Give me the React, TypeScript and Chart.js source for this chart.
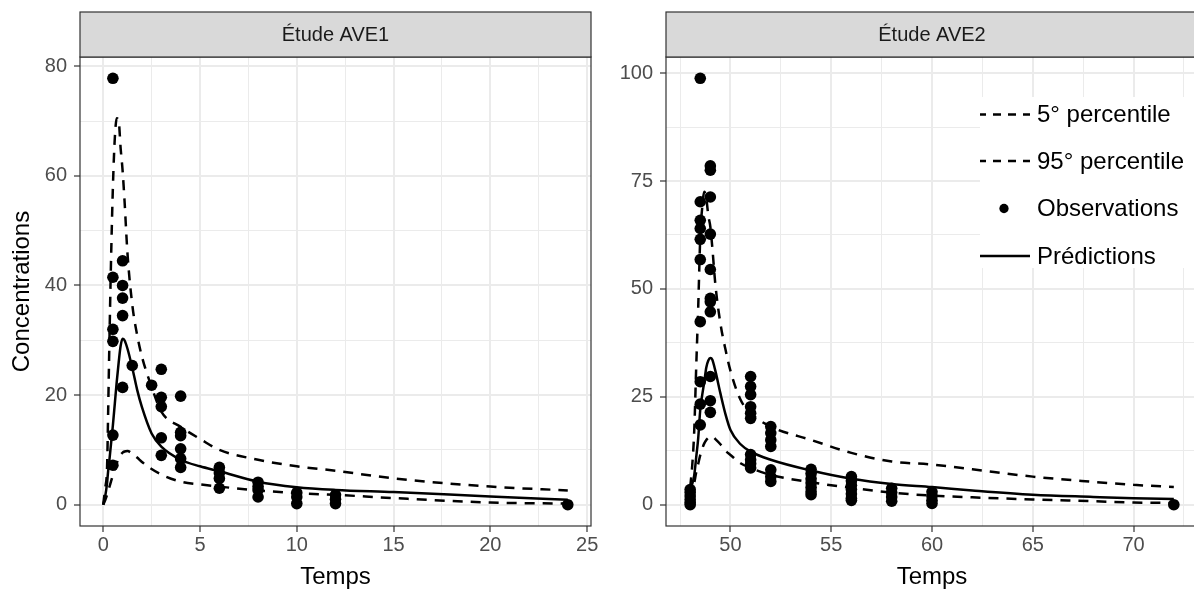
import React, { useEffect, useRef } from "react";
import { Chart, registerables } from "chart.js";

Chart.register(...registerables);

const FONT = "'Liberation Sans', Arial, Helvetica, sans-serif";

// ---------- Étude AVE1 ----------
const AVE1_TITLE = "Étude AVE1";
const AVE1_OBS_TIME = [
  0.5, 0.5, 0.5, 0.5, 0.5, 0.5,
  1, 1, 1, 1, 1,
  1.5, 2.5,
  3, 3, 3, 3, 3,
  4, 4, 4, 4, 4, 4,
  6, 6, 6, 6,
  8, 8, 8, 8,
  10, 10, 10,
  12, 12, 12,
  24,
];
const AVE1_OBS_CONC = [
  77.8, 41.5, 32.0, 29.8, 12.7, 7.2,
  44.5, 40.0, 37.7, 34.5, 21.4,
  25.4, 21.8,
  24.7, 19.6, 17.9, 12.2, 9.0,
  19.8, 13.2, 12.6, 10.2, 8.4, 6.8,
  6.8, 5.8, 4.8, 3.0,
  4.1, 3.3, 2.7, 1.4,
  2.2, 1.4, 0.2,
  1.8, 1.0, 0.2,
  0,
];
const AVE1_CURVE_TIME = [0, 0.1, 0.2, 0.25, 0.3, 0.4, 0.5, 0.6, 0.7, 0.8, 0.9, 1, 1.1, 1.25, 1.5, 1.75, 2, 2.5, 3, 4, 5, 6, 8, 10, 12, 15, 20, 24];
const AVE1_PRED = [0, 1.5, 4, 6, 7.5, 11, 14.5, 18.5, 22.5, 26, 29, 30.3, 30, 28.5, 25, 21, 17.8, 13, 10.6, 8.2, 7, 6.1, 4.2, 3.2, 2.7, 2.3, 1.5, 0.9];
const AVE1_P05 = [0, 0.8, 1.8, 2.4, 3, 4.2, 5.4, 6.5, 7.6, 8.5, 9.1, 9.5, 9.7, 9.8, 9.3, 8.6, 7.8, 6.5, 5.5, 4.2, 3.7, 3.3, 2.6, 2.1, 1.8, 1.2, 0.4, 0.2];
const AVE1_P95 = [0, 3, 7, 16, 26, 44, 58, 67, 70.5, 70, 65, 61, 55.5, 46, 36.5, 31, 27, 21.5, 17, 14.2, 12, 10, 8.2, 7, 6.2, 4.8, 3.3, 2.6];
const AVE1_X_MAJOR = [0, 5, 10, 15, 20, 25];
const AVE1_X_MINOR = [2.5, 7.5, 12.5, 17.5, 22.5];
const AVE1_Y_MAJOR = [0, 20, 40, 60, 80];
const AVE1_Y_MINOR = [10, 30, 50, 70];

// ---------- Étude AVE2 ----------
const AVE2_TITLE = "Étude AVE2";
const AVE2_OBS_TIME = [
  48, 48, 48, 48, 48, 48,
  48.5, 48.5, 48.5, 48.5, 48.5, 48.5, 48.5, 48.5, 48.5, 48.5,
  49, 49, 49, 49, 49, 49, 49, 49, 49, 49, 49,
  51, 51, 51, 51, 51, 51, 51, 51, 51, 51,
  52, 52, 52, 52, 52, 52, 52,
  54, 54, 54, 54, 54, 54, 54,
  56, 56, 56, 56, 56, 56, 56,
  58, 58, 58, 58,
  60, 60, 60, 60,
  72,
];
const AVE2_OBS_CONC = [
  3.5, 2.8, 2.0, 1.2, 0.5, 0,
  98.8, 70.2, 65.9, 64.0, 61.5, 56.8, 42.4, 28.5, 23.3, 18.5,
  78.5, 77.5, 71.3, 62.7, 54.5, 47.8, 47.0, 44.7, 29.7, 24.1, 21.4,
  29.7, 27.4, 25.5, 22.7, 21.2, 20.0, 11.6, 10.4, 9.5, 8.5,
  18.1, 16.6, 15.0, 13.5, 8.1, 6.5, 5.4,
  8.2, 7.2, 6.0, 5.0, 4.0, 3.0, 2.3,
  6.5, 5.5, 4.5, 3.5, 2.5, 1.5, 1.0,
  3.8, 2.8, 1.8, 0.8,
  3.0, 2.0, 1.0, 0.3,
  0,
];
const AVE2_CURVE_TIME = [48, 48.1, 48.2, 48.3, 48.4, 48.5, 48.6, 48.7, 48.8, 48.9, 49, 49.1, 49.25, 49.5, 49.75, 50, 50.5, 51, 52, 54, 56, 58, 60, 62, 65, 68, 70, 72];
const AVE2_PRED = [3.5, 4.8, 6.8, 11, 15.5, 22, 25.5, 28.5, 31.8, 33.4, 34, 33.6, 31, 25.8, 21, 17.3, 14, 12.3, 10.4, 7.9, 6.0, 4.8, 4.1, 3.3, 2.3, 1.8, 1.5, 1.3];
const AVE2_P05 = [1.2, 3, 5, 7.5, 9.5, 11.5, 13, 14.2, 15, 15.5, 15.8, 15.8, 15.2, 14, 12.5, 11.5, 9.6, 8.5, 6.9, 5.2, 3.9, 2.8, 2.1, 1.7, 1.2, 0.8, 0.5, 0.4];
const AVE2_P95 = [4, 9, 17, 32, 46, 62, 69, 72.5, 71, 67, 64.4, 59.5, 51, 42, 36, 31, 24.3, 21.2, 18.1, 15, 12, 10, 9.3, 8.2, 6.5, 5.3, 4.6, 4.1];
const AVE2_X_MAJOR = [50, 55, 60, 65, 70];
const AVE2_X_MINOR = [47.5, 52.5, 57.5, 62.5, 67.5, 72.5];
const AVE2_Y_MAJOR = [0, 25, 50, 75, 100];
const AVE2_Y_MINOR = [12.5, 37.5, 62.5, 87.5];

// ---------- Labels ----------
const X_TITLE = "Temps";
const Y_TITLE = "Concentrations";
const LEGEND_LABELS = ["5° percentile", "95° percentile", "Observations", "Prédictions"];
const LEGEND_KINDS = ["dash", "dash", "dot", "solid"];

const DASH = [10, 8];
const LINE_W = 2.5;
const POINT_R = 5.8;

const zip = (xs: number[], ys: number[]) => xs.map((x, i) => ({ x, y: ys[i] }));

const stripPlugin = {
  id: "strip",
  afterDraw(chart: any, _args: any, opts: any) {
    const { ctx, chartArea: a } = chart;
    ctx.save();
    ctx.strokeStyle = "#333333";
    ctx.lineWidth = 1.2;
    ctx.strokeRect(a.left, a.top, a.right - a.left, a.bottom - a.top);
    const top = 12;
    ctx.fillStyle = "#D9D9D9";
    ctx.fillRect(a.left, top, a.right - a.left, a.top - top);
    ctx.strokeRect(a.left, top, a.right - a.left, a.top - top);
    ctx.fillStyle = "#1A1A1A";
    ctx.font = `20px ${FONT}`;
    ctx.textAlign = "center";
    ctx.textBaseline = "middle";
    ctx.fillText(opts.text, (a.left + a.right) / 2, (top + a.top) / 2 + 1);
    ctx.restore();
  },
};

const keyLegendPlugin = {
  id: "keyLegend",
  afterDatasetsDraw(chart: any) {
    const { ctx, chartArea: a } = chart;
    const left = a.right - 218;
    const top = a.top + 40;
    const bottom = a.top + 211;
    const rows = [57.5, 104, 151.5, 199];
    ctx.save();
    ctx.fillStyle = "#FFFFFF";
    ctx.fillRect(left, top, a.right - left + 5, bottom - top);
    LEGEND_LABELS.forEach((label, i) => {
      const y = a.top + rows[i];
      const kind = LEGEND_KINDS[i];
      ctx.strokeStyle = "#000";
      ctx.fillStyle = "#000";
      ctx.lineWidth = LINE_W;
      if (kind === "dot") {
        ctx.beginPath();
        ctx.arc(left + 24, y, POINT_R * 0.8, 0, Math.PI * 2);
        ctx.fill();
      } else {
        ctx.setLineDash(kind === "dash" ? [8, 7] : []);
        ctx.lineDashOffset = kind === "dash" ? 2 : 0;
        ctx.beginPath();
        ctx.moveTo(left, y);
        ctx.lineTo(left + 50, y);
        ctx.stroke();
        ctx.setLineDash([]);
      }
      ctx.font = `24px ${FONT}`;
      ctx.textAlign = "left";
      ctx.textBaseline = "middle";
      ctx.fillText(label, left + 57, y + 1);
    });
    ctx.restore();
  },
};

interface PanelCfg {
  title: string;
  obsT: number[];
  obsC: number[];
  curveT: number[];
  pred: number[];
  p05: number[];
  p95: number[];
  xMajor: number[];
  xMinor: number[];
  yMajor: number[];
  yMinor: number[];
  xMin: number;
  xMax: number;
  yMin: number;
  yMax: number;
  yAxisWidth: number;
  padRight: number;
  yTitle: boolean;
  legend: boolean;
}

function axisOpts(major: number[], minor: number[], min: number, max: number) {
  const all = [...major, ...minor].sort((p, q) => p - q);
  return {
    type: "linear" as const,
    min,
    max,
    bounds: "data" as const,
    afterBuildTicks: (axis: any) => {
      axis.ticks = all.map((v) => ({ value: v }));
    },
    border: { display: false },
    grid: {
      color: "#EBEBEB",
      lineWidth: (c: any) => (c.tick && major.includes(c.tick.value) ? 2 : 1),
      drawTicks: true,
      tickLength: 6,
      tickWidth: 1.2,
      tickColor: (c: any) => (c.tick && major.includes(c.tick.value) ? "#333333" : "rgba(0,0,0,0)"),
    },
    ticks: {
      autoSkip: false,
      maxRotation: 0,
      minRotation: 0,
      color: "#4D4D4D",
      font: { family: FONT, size: 20 },
      callback: (v: any) => (major.includes(Number(v)) ? String(v) : ""),
    },
  };
}

function buildConfig(cfg: PanelCfg): any {
  const lineBase = {
    showLine: true,
    pointRadius: 0,
    borderColor: "#000000",
    borderWidth: LINE_W,
    fill: false,
    cubicInterpolationMode: "monotone",
  };
  const xAxis: any = axisOpts(cfg.xMajor, cfg.xMinor, cfg.xMin, cfg.xMax);
  xAxis.ticks.padding = 1;
  xAxis.title = {
    display: true,
    text: X_TITLE,
    color: "#000000",
    font: { family: FONT, size: 24 },
    padding: { top: 0, bottom: -2 },
  };
  xAxis.afterFit = (s: any) => {
    s.height = 64;
  };
  const yAxis: any = axisOpts(cfg.yMajor, cfg.yMinor, cfg.yMin, cfg.yMax);
  yAxis.ticks.padding = 7;
  yAxis.title = {
    display: cfg.yTitle,
    text: Y_TITLE,
    color: "#000000",
    font: { family: FONT, size: 24 },
    padding: { top: 8, bottom: 0 },
  };
  yAxis.afterFit = (s: any) => {
    s.width = cfg.yAxisWidth;
  };

  return {
    type: "scatter",
    data: {
      datasets: [
        {
          label: LEGEND_LABELS[2],
          data: zip(cfg.obsT, cfg.obsC),
          showLine: false,
          pointRadius: POINT_R,
          pointBackgroundColor: "#000000",
          pointBorderWidth: 0,
          backgroundColor: "#000000",
          borderColor: "#000000",
        },
        { ...lineBase, label: LEGEND_LABELS[3], data: zip(cfg.curveT, cfg.pred) },
        { ...lineBase, label: LEGEND_LABELS[0], data: zip(cfg.curveT, cfg.p05), borderDash: DASH },
        { ...lineBase, label: LEGEND_LABELS[1], data: zip(cfg.curveT, cfg.p95), borderDash: DASH },
      ],
    },
    options: {
      responsive: false,
      maintainAspectRatio: false,
      animation: false,
      devicePixelRatio: 1,
      events: [],
      layout: { padding: { top: 57, right: cfg.padRight, left: 0, bottom: 0 } },
      scales: { x: xAxis, y: yAxis },
      plugins: {
        legend: { display: false },
        tooltip: { enabled: false },
        strip: { text: cfg.title },
      },
    },
    plugins: cfg.legend ? [stripPlugin, keyLegendPlugin] : [stripPlugin],
  };
}

function Panel({ cfg, left, width }: { cfg: PanelCfg; left: number; width: number }) {
  const ref = useRef<HTMLCanvasElement>(null);
  useEffect(() => {
    const chart = new Chart(ref.current as HTMLCanvasElement, buildConfig(cfg));
    return () => chart.destroy();
  }, []);
  return (
    <canvas
      ref={ref}
      width={width}
      height={590}
      style={{ position: "absolute", left, top: 0, width, height: 590 }}
    />
  );
}

const LEFT_CFG: PanelCfg = {
  title: AVE1_TITLE,
  obsT: AVE1_OBS_TIME,
  obsC: AVE1_OBS_CONC,
  curveT: AVE1_CURVE_TIME,
  pred: AVE1_PRED,
  p05: AVE1_P05,
  p95: AVE1_P95,
  xMajor: AVE1_X_MAJOR,
  xMinor: AVE1_X_MINOR,
  yMajor: AVE1_Y_MAJOR,
  yMinor: AVE1_Y_MINOR,
  xMin: -1.2,
  xMax: 25.2,
  yMin: -3.89,
  yMax: 81.69,
  yAxisWidth: 80,
  padRight: 19,
  yTitle: true,
  legend: false,
};

const RIGHT_CFG: PanelCfg = {
  title: AVE2_TITLE,
  obsT: AVE2_OBS_TIME,
  obsC: AVE2_OBS_CONC,
  curveT: AVE2_CURVE_TIME,
  pred: AVE2_PRED,
  p05: AVE2_P05,
  p95: AVE2_P95,
  xMajor: AVE2_X_MAJOR,
  xMinor: AVE2_X_MINOR,
  yMajor: AVE2_Y_MAJOR,
  yMinor: AVE2_Y_MINOR,
  xMin: 46.8,
  xMax: 73.2,
  yMin: -4.94,
  yMax: 103.74,
  yAxisWidth: 56,
  padRight: 12,
  yTitle: false,
  legend: true,
};

export default function App() {
  return (
    <div
      style={{
        position: "fixed",
        left: 0,
        top: 0,
        width: 1194,
        height: 590,
        overflow: "hidden",
        background: "#FFFFFF",
      }}
    >
      <Panel cfg={LEFT_CFG} left={0} width={610} />
      <Panel cfg={RIGHT_CFG} left={610} width={600} />
    </div>
  );
}
